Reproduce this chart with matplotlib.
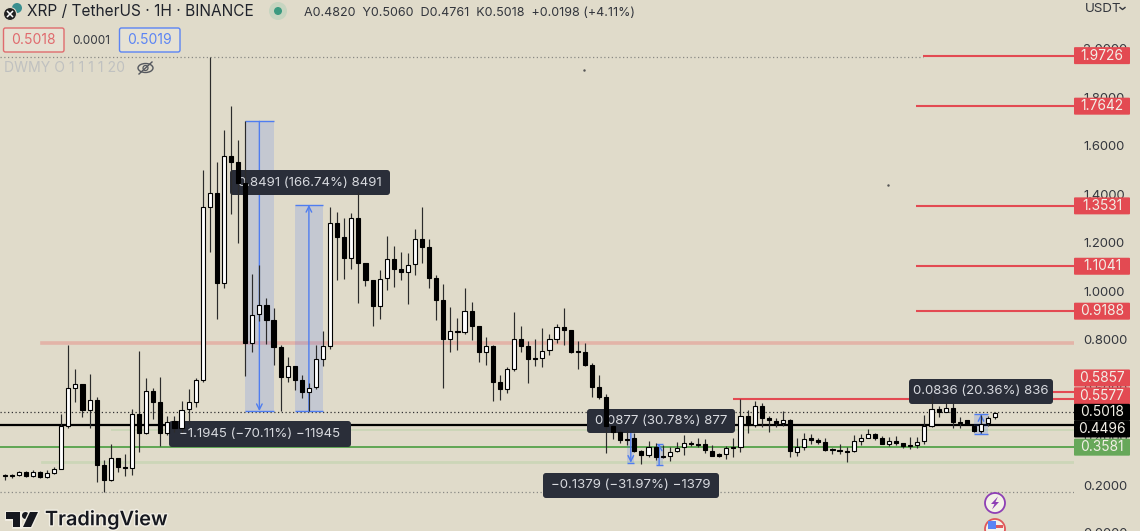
import matplotlib
matplotlib.use("Agg")
import matplotlib.pyplot as plt
import matplotlib.patheffects as pe
import matplotlib.transforms as mtransforms
from matplotlib.patches import Circle, Ellipse, FancyBboxPatch, Polygon, Rectangle

bg = "#E0DBCA"
red = "#E34A52"
green = "#67A85A"
blue = "#2962FF"
dark = "#2A2E39"

opens = [.245, .241, .243, .254, .240, .254, .235, .251, .269, .444, .603, .619, .511, .554, .285, .223, .312, .276, .271, .494,
         .418, .590, .543, .415, .466, .438, .515, .546, .635, 1.350, 1.406, 1.035, 1.559, 1.534, 1.447, .788, .907, .944, .882, .771,
         .647, .693, .635, .586, .606, .722, .775, 1.282, 1.225, 1.138, 1.303, 1.117, 1.047, .940, 1.055, 1.134, 1.093, 1.080, 1.113, 1.216,
         1.183, 1.055, .965, .804, .837, .833, .920, .858, .751, .775, .627, .598, .680, .804, .775, .726, .726, .759, .804, .854,
         .841, .755, .751, .697, .606, .565, .445, .420, .392, .396, .342, .326, .359, .322, .322, .342, .359, .375, .371, .371,
         .342, .330, .330, .359, .359, .487, .449, .528, .478, .466, .458, .470, .338, .359, .396, .388, .379, .350, .346, .342,
         .342, .384, .396, .412, .396, .371, .384, .375, .367, .367, .384, .445, .515, .503, .519, .462, .470, .445, .425, .458, .482]
highs = [.247, .247, .260, .258, .264, .258, .264, .277, .495, .779, .680, .619, .659, .566, .305, .370, .312, .329, .515, .755,
         .642, .603, .649, .488, .488, .548, .598, .642, 1.501, 1.967, 1.534, 1.666, 1.765, 1.625, 1.703, 1.072, 1.109, .973, .932, .779,
         .730, .693, .656, .623, .779, .837, 1.348, 1.328, 1.303, 1.324, 1.410, 1.117, 1.047, 1.089, 1.229, 1.188, 1.163, 1.158, 1.258, 1.348,
         1.216, 1.068, 1.031, .936, .891, 1.014, .957, .858, .812, .779, .656, .689, .915, .858, .796, .804, .849, .825, .866, .932,
         .841, .796, .788, .705, .656, .577, .445, .429, .429, .417, .346, .384, .375, .367, .359, .379, .408, .383, .396, .392,
         .367, .334, .363, .396, .557, .511, .548, .540, .487, .478, .507, .474, .396, .417, .412, .396, .396, .354, .371, .359,
         .408, .412, .433, .417, .404, .400, .404, .375, .400, .400, .491, .573, .528, .544, .544, .482, .470, .449, .491, .487, .503]
lows = [.223, .231, .239, .236, .236, .231, .231, .246, .269, .437, .543, .484, .438, .213, .174, .218, .254, .240, .243, .339,
        .412, .473, .364, .408, .422, .422, .452, .525, .627, 1.163, .886, 1.014, 1.319, 1.200, .651, .750, .878, .784, .697, .507,
        .627, .594, .561, .507, .598, .693, .763, 1.047, 1.051, 1.093, .953, 1.022, .858, .887, 1.006, 1.018, 1.047, .948, 1.068, 1.117,
        1.014, .882, .602, .750, .759, .825, .800, .709, .697, .548, .553, .581, .672, .750, .623, .693, .689, .738, .788, .779,
        .746, .680, .693, .565, .557, .334, .392, .375, .367, .338, .289, .318, .305, .313, .301, .338, .326, .363, .359, .334,
        .322, .318, .309, .318, .338, .416, .441, .441, .421, .441, .445, .318, .322, .346, .371, .371, .342, .330, .330, .297,
        .338, .367, .396, .388, .371, .363, .367, .355, .351, .355, .371, .441, .482, .503, .437, .437, .454, .421, .416, .445, .474]
closes = [.241, .240, .254, .240, .254, .235, .251, .268, .444, .601, .619, .511, .554, .285, .223, .312, .276, .272, .494, .418,
          .590, .543, .415, .461, .438, .512, .543, .635, 1.348, 1.408, 1.035, 1.559, 1.534, 1.447, .788, .903, .944, .882, .771, .647,
          .693, .635, .586, .602, .722, .775, 1.282, 1.225, 1.138, 1.303, 1.117, 1.047, .940, 1.051, 1.134, 1.093, 1.080, 1.109, 1.216, 1.183,
          1.055, .965, .804, .837, .833, .920, .858, .751, .775, .627, .598, .680, .804, .775, .722, .722, .755, .804, .854, .841,
          .751, .751, .697, .606, .565, .445, .420, .388, .388, .342, .326, .359, .318, .318, .338, .355, .375, .371, .368, .346,
          .322, .322, .355, .355, .487, .449, .528, .478, .470, .458, .470, .342, .359, .392, .388, .379, .346, .346, .342, .338,
          .384, .396, .412, .396, .371, .384, .375, .363, .363, .379, .445, .515, .503, .519, .462, .458, .454, .425, .454, .478, .499]

tick_values = [.2, .4, .6, .8, 1.0, 1.2, 1.4, 1.6, 1.8, 2.0]

tag_prices = [1.9726, 1.7642, 1.3531, 1.1041, .9188, .5857, .5577, .5018, .4496, .3581]
tag_colors = [red, red, red, red, red, red, red, "black", "black", green]
tag_shift = [0, 0, 0, 0, 0, -14, -3, 0, 4, 0]

red_levels = [1.9726, 1.7642, 1.3531, 1.1041, .9188, .5857, .5577]
red_starts = [129.8, 128.8, 128.8, 128.8, 128.8, 128, 102.9]

measure_left = [34, 41, 88, 92, 137]
measure_right = [38, 45, 89, 93, 139]
measure_from = [1.7015, .5076, .4318, .2850, .4106]
measure_to = [.5070, 1.3567, .2939, .3727, .4942]

callouts = ["0.8491 (166.74%) 8491", "\u22121.1945 (\u221270.11%) \u221211945", "0.0877 (30.78%) 877",
            "\u22120.1379 (\u221231.97%) \u22121379", "0.0836 (20.36%) 836"]
callout_boxes = [(230, 170, 390, 195), (169, 421, 351, 447), (587, 409, 735, 433), (543, 473, 719, 498), (909, 379, 1053, 404)]

plt.rcParams["font.family"] = ["Inter", "DejaVu Sans"]
fig = plt.figure(figsize=(11.4, 5.31), dpi=100, facecolor=bg)
ax = fig.add_axes([0, 0, 1074 / 1140, 1])
ax.set_facecolor(bg)
ax.set_xlim(-.66, 151.14)
ax.set_ylim(.0124, 2.202)
for s in ax.spines.values():
    s.set_visible(False)
ax.set_xticks([])
ax.yaxis.tick_right()
ax.set_yticks(tick_values)
ax.set_yticklabels([f"{v:.4f}" for v in tick_values])
ax.tick_params(axis="y", length=0, pad=6.5, labelsize=9.4, labelcolor="#33363D")

# everything that is not chart data is placed in screen pixels, y down
px = mtransforms.Affine2D().scale(1 / 1140, -1 / 531).translate(0, 1) + fig.transFigure
ax.text(1083, 534, "0.0000", transform=px, fontsize=9.4, color="#33363D", va="center", clip_on=False)

# levels
ax.axhline(.788, xmin=42 / 1074, color="#E3B4A8", lw=2.6, zorder=1)
ax.axhline(.297, xmin=42 / 1074, color="#CCD6B8", lw=2.0, zorder=1)
ax.axhline(.429, xmin=112 / 1074, color="#CCD6B8", lw=1.4, zorder=1)
ax.axhline(.3581, color="#5FA653", lw=1.4, zorder=1.5)
ax.axhline(.4496, color="black", lw=1.6, zorder=1.5)
ax.axhline(.5018, color="#333333", lw=.9, ls=(0, (1, 2)), zorder=1.5)
ax.axhline(.173, color="#8A8A85", lw=.9, ls=(0, (1, 2)), zorder=1.5)
ax.hlines(1.965, -.66, 129.8, color="#8A8A85", lw=.9, ls=(0, (1, 2)), zorder=1.5)
ax.hlines(red_levels, red_starts, 151.14, color=red, lw=1.5, zorder=1.6)

# price range tools
for l, r, a, b in zip(measure_left, measure_right, measure_from, measure_to):
    ax.add_patch(Rectangle((l, min(a, b)), r - l, abs(a - b), fc=blue, alpha=.15, ec="none", zorder=2))
    ax.hlines([a, b], l, r, color="#4F7DF0", lw=1, zorder=2.1)
    ax.annotate("", xy=((l + r) / 2, b), xytext=((l + r) / 2, a), zorder=2.1,
                arrowprops=dict(arrowstyle="->", color="#4F7DF0", lw=1, mutation_scale=10, shrinkA=0, shrinkB=0))

for label, (x0, y0, x1, y1) in zip(callouts, callout_boxes):
    ax.add_patch(FancyBboxPatch((x0 + 3, y0 + 3), x1 - x0 - 6, y1 - y0 - 6, boxstyle="round,pad=3,rounding_size=3",
                                fc=dark, ec="none", transform=px, clip_on=False, zorder=3))
    ax.text((x0 + x1) / 2, (y0 + y1) / 2, label, color="#D8DADF", fontsize=9.5, ha="center", va="center",
            transform=px, zorder=3.1)

# candles
xs = list(range(len(opens)))
ax.vlines(xs, lows, highs, color="#2B2B2B", lw=.85, zorder=5)
body_low = [min(o, c) for o, c in zip(opens, closes)]
body_h = [max(abs(c - o), .003) for o, c in zip(opens, closes)]
colors = ["white" if c >= o else "black" for o, c in zip(opens, closes)]
ax.bar(xs, body_h, bottom=body_low, width=.58, color=colors, edgecolor="black", linewidth=.8, zorder=6)

# price tags
for p, c, shift in zip(tag_prices, tag_colors, tag_shift):
    yc = 531 - ax.transData.transform((0, p))[1] + shift
    ax.add_patch(FancyBboxPatch((1075, yc - 7.5), 54, 15, boxstyle="round,pad=1,rounding_size=1", fc=c, ec="none",
                                transform=px, clip_on=False, zorder=8))
    ax.text(1102, yc, f"{p:.4f}", color="#F2EFE6", fontsize=9.9, ha="center", va="center", transform=px, zorder=9)


def chrome(text, x, y, size, color="#33363D", ha="left", **kw):
    return ax.text(x, y, text, fontsize=size, color=color, ha=ha, va="center", transform=px, clip_on=False, zorder=10, **kw)


def shape(patch):
    patch.set_transform(px)
    patch.set_clip_on(False)
    patch.set_zorder(10)
    ax.add_patch(patch)


# header
shape(Circle((17, 8), 5, fc="#3A8F8F", ec="none"))
shape(Circle((10, 14), 6.5, fc="#222222", ec=bg, lw=.8))
ax.plot([7.5, 12.5], [11.5, 16.5], color="white", lw=1.1, transform=px, zorder=11, clip_on=False)
ax.plot([7.5, 12.5], [16.5, 11.5], color="white", lw=1.1, transform=px, zorder=11, clip_on=False)
chrome("XRP / TetherUS \u00b7 1H \u00b7 BINANCE", 27, 12, 11.1, "#20232B")
shape(Circle((278, 11), 9, fc="#C6D5C0", ec="none"))
shape(Circle((278, 11), 4, fc="#3B9A80", ec="none"))
chrome("A0.4820  Y0.5060  D0.4761  K0.5018  +0.0198 (+4.11%)", 304, 13, 9.05)

for x0, x1, c, t in [(3.5, 64, "#E06B6E", "0.5018"), (119.5, 180, "#5B84F4", "0.5019")]:
    shape(FancyBboxPatch((x0 + 2, 30), x1 - x0 - 4, 20, boxstyle="round,pad=2,rounding_size=2", fc="#E6E2D4", ec=c, lw=1))
    chrome(t, (x0 + x1) / 2, 40, 10, c, ha="center")
chrome("0.0001", 91, 40.5, 8.4, ha="center")
chrome("DWMY O 1 1 1 1 20", 4, 68.5, 10.1, "#C0C1C0")
shape(Ellipse((145.5, 68), 15, 9, fc="none", ec="#55585E", lw=1))
shape(Circle((145.5, 68), 2.5, fc="none", ec="#55585E", lw=.9))
ax.plot([139, 152], [74, 62], color="#55585E", lw=1, transform=px, zorder=11, clip_on=False)
chrome("USDT", 1085, 9, 9.6)
ax.plot([1120, 1122.5, 1125], [7.5, 9.5, 7.5], color="#33363D", lw=1, transform=px, zorder=11, clip_on=False)

# logo
halo = [pe.withStroke(linewidth=2, foreground="#F1EEE4")]
logo = [Polygon([(6, 512), (20, 512), (20, 527), (13, 527), (13, 519), (6, 519)], fc="#16181F", ec="none"),
        Circle((25.5, 515.5), 3.5, fc="#16181F", ec="none"),
        Polygon([(30, 512), (38, 512), (31, 527), (23, 527)], fc="#16181F", ec="none")]
for part in logo:
    part.set_path_effects([pe.Stroke(linewidth=2, foreground="#F1EEE4"), pe.Normal()])
    shape(part)
chrome("TradingView", 45, 520, 14.3, "#16181F", weight="semibold", path_effects=halo)

# event badges
shape(Circle((995, 503), 10, fc="#F4F1E8", ec="#8E3FB5", lw=1.3))
shape(Polygon([(998, 496.5), (991, 504), (994.5, 504), (992, 509.5), (999, 502), (995.5, 502)], fc="#8E3FB5", ec="none"))
shape(Circle((995, 529), 10, fc="#F4F1E8", ec="#E0575A", lw=1.3))
shape(Rectangle((988, 521), 8, 8, fc="#5B84F4", ec="none"))
shape(Rectangle((996, 525), 7, 2.5, fc="#E0575A", ec="none"))

ax.plot([584, 888], [70, 185], ls="none", marker=".", ms=1.5, color="#555555", transform=px, zorder=2, clip_on=False)

fig.savefig("out.png", dpi=100, facecolor=bg)
